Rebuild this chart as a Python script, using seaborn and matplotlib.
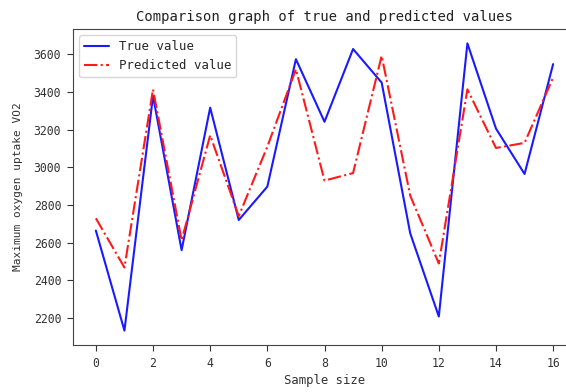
import matplotlib
matplotlib.use("Agg")
import matplotlib.pyplot as plt
import seaborn as sns
import pandas as pd
import numpy as np

sample_index = list(range(17))
true_values = [2665, 2134, 3379, 2561, 3317, 2721, 2898, 3574, 3242, 3628,
               3450, 2650, 2209, 3658, 3206, 2965, 3548]
predicted_values = [2730, 2469, 3414, 2614, 3170, 2742, 3110, 3521, 2930, 2970,
                    3592, 2850, 2490, 3414, 3103, 3130, 3477]

sns.set_style("ticks")
plt.rcParams['font.family'] = ['DejaVu Sans Mono', 'DejaVu Sans']

fig = plt.figure(figsize=(5.66, 3.92), dpi=100)
ax = fig.add_axes([73/566, 1-345/392, (576-73)/566, (345-29)/392])

df = pd.DataFrame({"x": sample_index, "true": true_values, "pred": predicted_values})
sns.lineplot(data=df, x="x", y="true", ax=ax, color="#1a1aff", linewidth=1.5,
             label="True value")
sns.lineplot(data=df, x="x", y="pred", ax=ax, color="#ff1a1a", linewidth=1.5,
             linestyle="-.", label="Predicted value")

ax.set_xticks(range(0, 17, 2))
ax.set_title("Comparison graph of true and predicted values", fontsize=10, color="#222222")
ax.set_xlabel("Sample size", fontsize=8.8, color="#333333", labelpad=3)
ax.set_ylabel("Maximum oxygen uptake VO2", fontsize=8.0, color="#333333", labelpad=8)
ax.tick_params(labelsize=8.3, colors="#333333", length=4.5, pad=4)
for s in ax.spines.values():
    s.set_color("#444444")
leg = ax.legend(loc="upper left", fontsize=8.9, frameon=True)

fig.savefig("out.png", dpi=100)
